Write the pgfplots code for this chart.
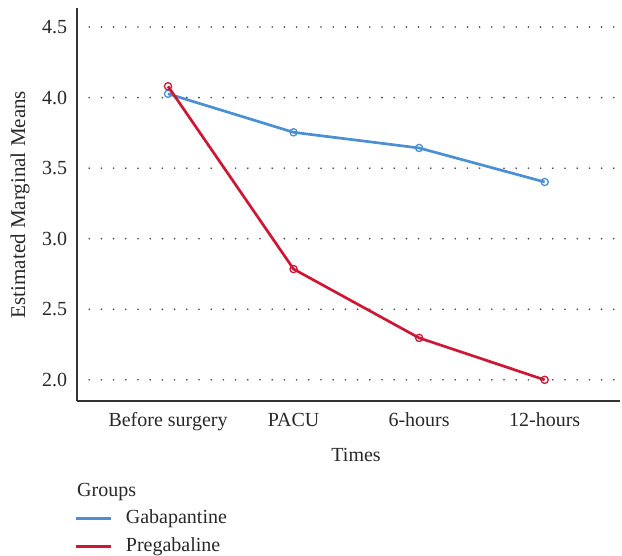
\documentclass[border=0pt]{standalone}
\usepackage{pgfplots}
\pgfplotsset{compat=1.18}
\usepackage{fontspec}
\setmainfont{Liberation Serif}
\definecolor{gblue}{RGB}{74,144,211}
\definecolor{pred}{RGB}{204,24,52}
\definecolor{txt}{RGB}{40,40,40}
\begin{document}
\fontsize{20}{24}\selectfont
\begin{tikzpicture}
\path[use as bounding box] (-77pt,-155pt) rectangle (545pt,401pt);
\begin{axis}[
  at={(0pt,0pt)}, anchor=south west,
  scale only axis, width=543pt, height=393pt,
  xmin=-0.725, xmax=3.6, ymin=1.85, ymax=4.635,
  clip mode=individual,
  axis x line*=bottom, axis y line*=left,
  axis line style={-, line width=1.2pt, color=black!80},
  xtick={0,1,2,3},
  xticklabels={Before surgery, PACU, 6-hours, 12-hours},
  ytick={2.0,2.5,3.0,3.5,4.0,4.5},
  /pgf/number format/assume math mode=true,
  yticklabel style={/pgf/number format/fixed, /pgf/number format/fixed zerofill, /pgf/number format/precision=1, xshift=-3pt, text=txt},
  xticklabel style={yshift=-5pt, text=txt},
  major tick length=0pt,
  ymajorgrids,
  grid style={black!75, line width=1.8pt, line cap=round, dash pattern=on 0pt off 12.2pt},
  xlabel={Times},
  xlabel style={at={(axis description cs:0.514,0)}, anchor=base, yshift=-61pt, text=txt},
  ylabel={\fontsize{21}{24}\selectfont Estimated Marginal Means},
  ylabel style={at={(axis description cs:-0.105,0.5)}, anchor=center, text=txt},
  legend style={draw=none, fill=none, at={(axis description cs:-0.0055,-0.272)}, anchor=north west,
    inner sep=0pt, nodes={inner xsep=0pt, inner ysep=2pt, text=txt}, row sep=7pt,
    /tikz/every odd column/.append style={column sep=14pt}},
  legend cell align=left,
  legend image code/.code={\draw[#1, mark=none] (0pt,0pt) -- (35pt,0pt);},
]
\addplot[color=gblue, line width=2.7pt, mark=o, mark size=3.6pt, mark options={line width=1.3pt}]
  coordinates {(0,4.027) (1,3.754) (2,3.643) (3,3.402)};
\addlegendentry{Gabapantine}
\addplot[color=pred, line width=2.7pt, mark=o, mark size=3.6pt, mark options={line width=1.3pt}]
  coordinates {(0,4.080) (1,2.785) (2,2.297) (3,2.000)};
\addlegendentry{Pregabaline}
\node[anchor=base west, inner sep=0pt, text=txt, yshift=-96pt] at (rel axis cs:0,0) {Groups};
\end{axis}
\end{tikzpicture}
\end{document}
